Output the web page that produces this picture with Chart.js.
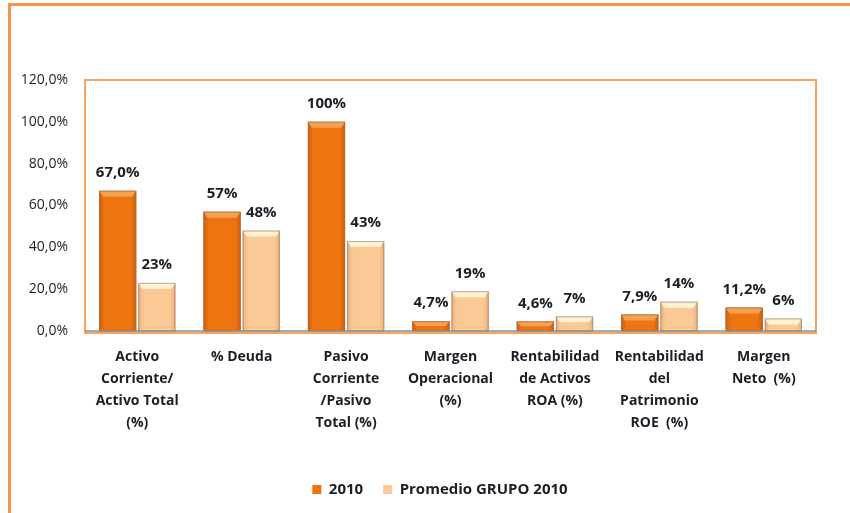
<!DOCTYPE html>
<html>
<head>
<meta charset="utf-8">
<script src="https://cdn.jsdelivr.net/npm/chart.js@4"></script>
<style>
html,body{margin:0;padding:0;background:#fff;}
#wrap{position:relative;width:850px;height:513px;}
</style>
</head>
<body>
<div id="wrap"><canvas id="c" width="850" height="513"></canvas></div>
<script>
const categories = [
  ["Activo","Corriente/","Activo Total","(%)"],
  ["% Deuda"],
  ["Pasivo","Corriente","/Pasivo","Total (%)"],
  ["Margen","Operacional","(%)"],
  ["Rentabilidad","de Activos","ROA (%)"],
  ["Rentabilidad","del","Patrimonio","ROE  (%)"],
  ["Margen","Neto  (%)"]
];
const values2010 = [67.0, 57, 100, 4.7, 4.6, 7.9, 11.2];
const valuesGrupo = [23, 48, 43, 19, 7, 14, 6];
const labels2010 = ["67,0%","57%","100%","4,7%","4,6%","7,9%","11,2%"];
const labelsGrupo = ["23%","48%","43%","19%","7%","14%","6%"];
const seriesNames = ["2010","Promedio GRUPO 2010"];

const FONT = "'Open Sans', 'Liberation Sans', sans-serif";
const TEXT = "#1d1d26";
const palette = [
  {main:"#EE7410", edge:"#D25E05", bevel:"#F7A050"},
  {main:"#FBC995", edge:"#EBAF79", bevel:"#FFF1D2"}
];

const framePlugin = {
  id:'frame',
  afterLayout(chart){
    const lg = chart.legend;
    if (lg) { lg.left += 54; }
  },
  beforeDraw(chart){
    const ctx = chart.ctx;
    ctx.save();
    ctx.fillStyle = '#fff';
    ctx.fillRect(0,0,chart.width,chart.height);
    ctx.strokeStyle = '#F79646';
    ctx.lineWidth = 3;
    ctx.beginPath();
    ctx.moveTo(9.5, chart.height);
    ctx.lineTo(9.5, 4.5);
    ctx.lineTo(chart.width, 4.5);
    ctx.stroke();
    ctx.restore();
  },
  afterDatasetsDraw(chart){
    const ctx = chart.ctx;
    const a = chart.chartArea;
    chart.data.datasets.forEach((ds, di) => {
      const meta = chart.getDatasetMeta(di);
      const col = palette[di];
      meta.data.forEach(bar => {
        const p = bar.getProps(['x','y','base','width'], true);
        const l = p.x - p.width/2, r = p.x + p.width/2;
        const t = p.y, b = p.base;
        ctx.save();
        const g = ctx.createLinearGradient(l,0,r,0);
        g.addColorStop(0, col.edge);
        g.addColorStop(0.15, col.main);
        g.addColorStop(0.85, col.main);
        g.addColorStop(1, col.edge);
        ctx.fillStyle = g;
        ctx.fillRect(l, t, r-l, b-t);
        const bh = Math.min(6, (b-t)/2);
        ctx.fillStyle = col.bevel;
        ctx.beginPath();
        ctx.moveTo(l, t);
        ctx.lineTo(r, t);
        ctx.lineTo(r-4, t+bh);
        ctx.lineTo(l+4, t+bh);
        ctx.closePath();
        ctx.fill();
        ctx.strokeStyle = 'rgba(120,120,120,0.55)';
        ctx.lineWidth = 1;
        ctx.strokeRect(l+0.5, t+0.5, r-l-1, b-t);
        ctx.restore();
      });
    });
    ctx.save();
    ctx.strokeStyle = '#F8A461';
    ctx.lineWidth = 2;
    ctx.strokeRect(a.left, a.top, a.right-a.left, a.bottom-a.top+2);
    ctx.strokeStyle = '#8c8c8c';
    ctx.lineWidth = 1.5;
    ctx.beginPath();
    ctx.moveTo(a.left, a.bottom);
    ctx.lineTo(a.right, a.bottom);
    ctx.stroke();
    ctx.restore();
    const lbls = [labels2010, labelsGrupo];
    ctx.save();
    ctx.font = "bold 15px " + FONT;
    ctx.fillStyle = TEXT;
    ctx.textAlign = 'center';
    ctx.textBaseline = 'middle';
    chart.data.datasets.forEach((ds, di) => {
      const meta = chart.getDatasetMeta(di);
      meta.data.forEach((bar, i) => {
        const p = bar.getProps(['x','y'], true);
        ctx.fillText(lbls[di][i], p.x, p.y - 18);
      });
    });
    ctx.restore();
  }
};

new Chart(document.getElementById('c'), {
  type: 'bar',
  data: {
    labels: categories,
    datasets: [
      {label: seriesNames[0], data: values2010, backgroundColor: palette[0].main},
      {label: seriesNames[1], data: valuesGrupo, backgroundColor: palette[1].main}
    ]
  },
  options: {
    responsive: false,
    animation: false,
    devicePixelRatio: 1,
    categoryPercentage: 0.75,
    barPercentage: 0.95,
    layout: {padding: {left: 10, right: 34, top: 80, bottom: 6}},
    plugins: {
      legend: {
        position: 'bottom',
        labels: {
          boxWidth: 9, boxHeight: 9, padding: 20,
          color: TEXT,
          font: {family: FONT, size: 15, weight: 'bold'}
        }
      },
      tooltip: {enabled: false}
    },
    scales: {
      x: {
        grid: {display: false},
        border: {display: false},
        ticks: {
          color: TEXT, autoSkip: false, maxRotation: 0, minRotation: 0, padding: 7,
          font: {family: FONT, size: 14, weight: 'bold', lineHeight: 1.57}
        },
        afterFit(s){ s.height = 131; }
      },
      y: {
        min: 0, max: 120,
        grid: {display: false, drawTicks: false},
        border: {display: false},
        ticks: {
          stepSize: 20, color: TEXT, padding: 17,
          font: {family: FONT, size: 14},
          callback: v => v.toFixed(1).replace('.', ',') + '%'
        },
        afterFit(s){ s.width = 75; }
      }
    }
  },
  plugins: [framePlugin]
});
</script>
</body>
</html>
